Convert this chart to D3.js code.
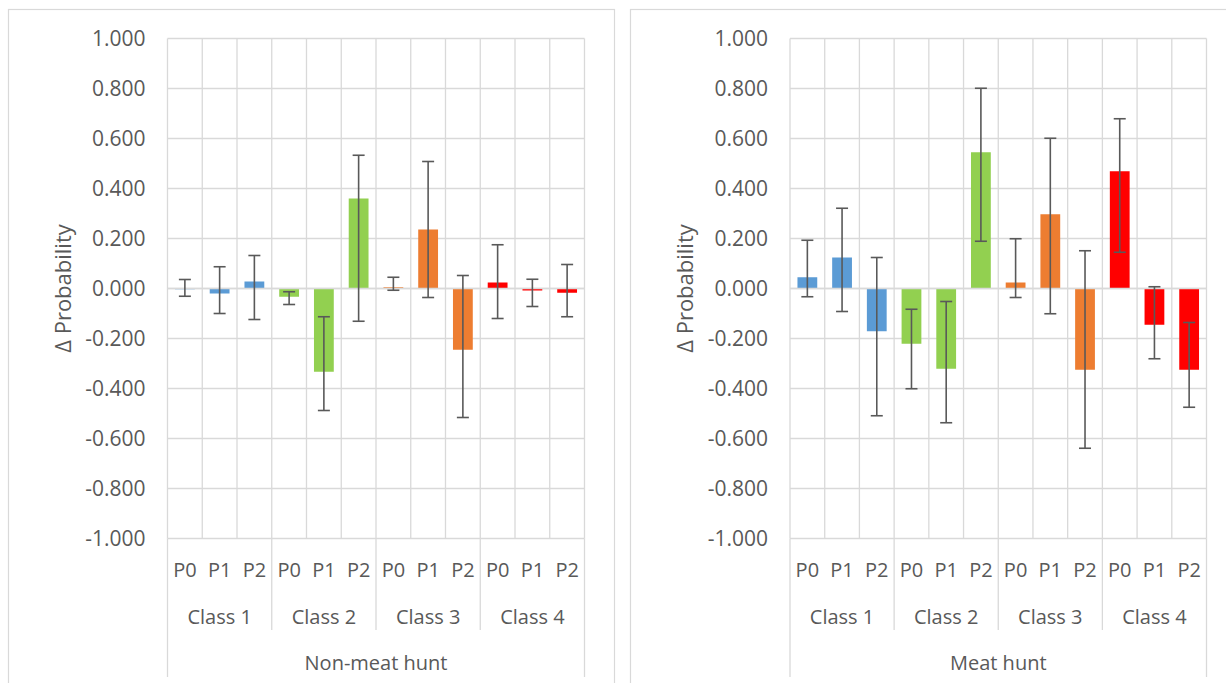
<!DOCTYPE html>
<html>
<head>
<meta charset="utf-8">
<script src="https://cdn.jsdelivr.net/npm/d3@7"></script>
<style>
  html, body { margin: 0; padding: 0; background: #fff; }
  svg { display: block; font-family: "Open Sans", "Noto Sans", sans-serif; }
</style>
</head>
<body>
<svg id="chart" width="1226" height="683"></svg>
<script>
// Categories
const classes = ["Class 1", "Class 2", "Class 3", "Class 4"];
const periods = ["P0", "P1", "P2"];
const classColors = ["#5B9BD5", "#92D050", "#ED7D31", "#FF0000"];
const panelTitles = ["Non-meat hunt", "Meat hunt"];

// Y axis ticks
const yTicks = [1.0, 0.8, 0.6, 0.4, 0.2, 0.0, -0.2, -0.4, -0.6, -0.8, -1.0];
const yTickLabels = ["1.000", "0.800", "0.600", "0.400", "0.200", "0.000",
                     "-0.200", "-0.400", "-0.600", "-0.800", "-1.000"];

// Non-meat hunt: Δ probability and interval bounds (Class 1..4 × P0..P2)
const nonMeatValues = [-0.003, -0.020, 0.028, -0.033, -0.333, 0.360, 0.005, 0.236, -0.245, 0.024, -0.008, -0.017];
const nonMeatLow    = [-0.031, -0.100, -0.124, -0.064, -0.488, -0.131, -0.007, -0.036, -0.516, -0.120, -0.072, -0.113];
const nonMeatHigh   = [0.036, 0.087, 0.132, -0.013, -0.113, 0.533, 0.045, 0.508, 0.052, 0.175, 0.037, 0.096];

// Meat hunt
const meatValues = [0.045, 0.124, -0.171, -0.221, -0.321, 0.545, 0.024, 0.297, -0.325, 0.469, -0.145, -0.325];
const meatLow    = [-0.033, -0.092, -0.509, -0.401, -0.537, 0.189, -0.036, -0.101, -0.639, 0.145, -0.281, -0.475];
const meatHigh   = [0.193, 0.321, 0.124, -0.083, -0.052, 0.801, 0.199, 0.601, 0.151, 0.679, 0.007, -0.136];

const panelData = [
  { title: panelTitles[0], values: nonMeatValues, low: nonMeatLow, high: nonMeatHigh },
  { title: panelTitles[1], values: meatValues, low: meatLow, high: meatHigh }
];

const svg = d3.select("#chart");
const GRID = "#D9D9D9";
const TEXT = "#595959";
const ERR = "#595959";

const panelLayout = [
  { frameX: 8.5, frameW: 606, plotL: 167.5, plotR: 584.5 },
  { frameX: 630.5, frameW: 620, plotL: 790, plotR: 1206.5 }
];
const plotTop = 38.5, plotBottom = 538.5;

const y = d3.scaleLinear().domain([-1, 1]).range([plotBottom, plotTop]);

panelData.forEach((pd, pi) => {
  const L = panelLayout[pi];
  const g = svg.append("g");

  // chart frame
  g.append("rect")
    .attr("x", L.frameX).attr("y", 9.5)
    .attr("width", L.frameW).attr("height", 720)
    .attr("fill", "#fff").attr("stroke", GRID).attr("stroke-width", 1.2);

  const idx = d3.range(classes.length * periods.length);
  const x = d3.scaleBand().domain(idx).range([L.plotL, L.plotR]).padding(0);
  const bw = x.bandwidth();
  const barW = bw * 0.57;
  const colX = i => (i === idx.length ? L.plotR : x(i));

  // horizontal gridlines
  g.append("g").selectAll("line").data(yTicks).join("line")
    .attr("x1", L.plotL).attr("x2", L.plotR)
    .attr("y1", d => y(d)).attr("y2", d => y(d))
    .attr("stroke", GRID).attr("stroke-width", 1.3);

  // vertical gridlines at every column boundary
  g.append("g").selectAll("line").data(d3.range(idx.length + 1)).join("line")
    .attr("x1", colX).attr("x2", colX)
    .attr("y1", plotTop).attr("y2", plotBottom)
    .attr("stroke", GRID).attr("stroke-width", 1.3);

  // class separators below the plot
  const classBounds = d3.range(classes.length + 1).map(c => c * periods.length);
  g.append("g").selectAll("line").data(classBounds).join("line")
    .attr("x1", colX).attr("x2", colX)
    .attr("y1", plotBottom)
    .attr("y2", d => (d === 0 || d === idx.length) ? 677 : 630)
    .attr("stroke", GRID).attr("stroke-width", 1.3);

  // bars
  g.append("g").selectAll("rect").data(idx).join("rect")
    .attr("x", i => x(i) + (bw - barW) / 2)
    .attr("width", barW)
    .attr("y", i => y(Math.max(0, pd.values[i])))
    .attr("height", i => Math.abs(y(pd.values[i]) - y(0)))
    .attr("fill", i => classColors[Math.floor(i / periods.length)]);

  // zero line on top of the bars
  g.append("line")
    .attr("x1", L.plotL).attr("x2", L.plotR)
    .attr("y1", y(0)).attr("y2", y(0))
    .attr("stroke", GRID).attr("stroke-width", 1.6);

  // error bars
  const capW = 12;
  const eg = g.append("g").attr("stroke", ERR).attr("stroke-width", 1.6);
  idx.forEach(i => {
    const cx = x(i) + bw / 2;
    eg.append("line").attr("x1", cx).attr("x2", cx)
      .attr("y1", y(pd.high[i])).attr("y2", y(pd.low[i]));
    [pd.high[i], pd.low[i]].forEach(v => {
      eg.append("line").attr("x1", cx - capW / 2).attr("x2", cx + capW / 2)
        .attr("y1", y(v)).attr("y2", y(v));
    });
  });

  // y axis labels
  const yAxis = d3.axisLeft(y)
    .tickValues(yTicks)
    .tickFormat((d, k) => yTickLabels[k])
    .tickSize(0).tickPadding(22);
  const ya = g.append("g").attr("transform", `translate(${L.plotL},0)`).call(yAxis);
  ya.select(".domain").remove();
  ya.selectAll("text").attr("fill", TEXT).style("font-size", "21px")
    .style("font-family", "'Open Sans', sans-serif");

  // y axis title
  g.append("text")
    .attr("transform", `translate(${L.plotL - 106},${(plotTop + plotBottom) / 2}) rotate(-90)`)
    .attr("text-anchor", "middle").attr("dominant-baseline", "central")
    .attr("fill", TEXT).style("font-size", "22px")
    .text("Δ Probability");

  // period labels
  const xAxis = d3.axisBottom(x)
    .tickFormat(i => periods[i % periods.length])
    .tickSize(0).tickPadding(0);
  const xa = g.append("g").attr("transform", `translate(0,${plotBottom})`).call(xAxis);
  xa.select(".domain").remove();
  xa.selectAll("text").attr("y", 570 - plotBottom).attr("dy", "0.35em")
    .attr("fill", TEXT).style("font-size", "20px")
    .style("font-family", "'Open Sans', sans-serif");

  // class labels
  const cx = d3.scaleBand().domain(classes).range([L.plotL, L.plotR]);
  g.append("g").selectAll("text").data(classes).join("text")
    .attr("x", d => cx(d) + cx.bandwidth() / 2)
    .attr("y", 617).attr("dy", "0.35em")
    .attr("text-anchor", "middle").attr("fill", TEXT).style("font-size", "20px")
    .text(d => d);

  // panel title
  g.append("text")
    .attr("x", (L.plotL + L.plotR) / 2).attr("y", 663).attr("dy", "0.35em")
    .attr("text-anchor", "middle").attr("fill", TEXT).style("font-size", "20px")
    .text(pd.title);
});
</script>
</body>
</html>
